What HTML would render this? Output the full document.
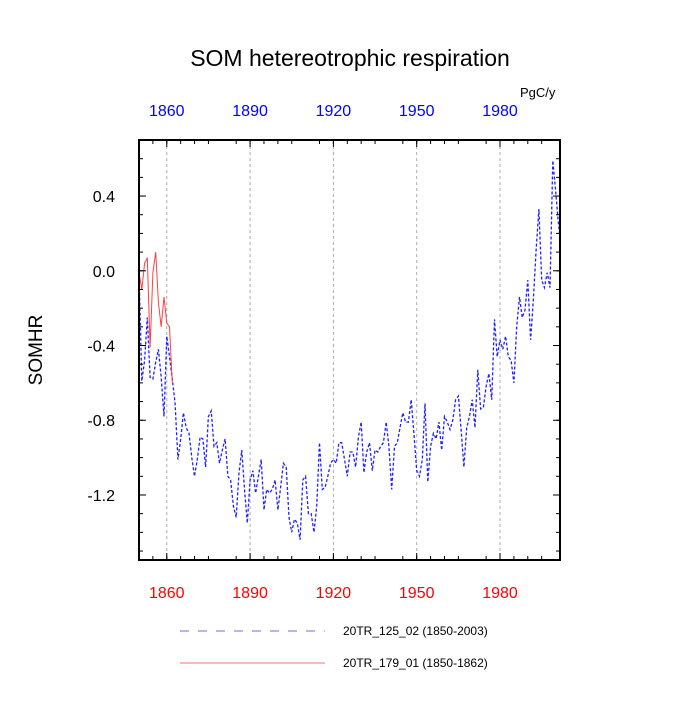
<!DOCTYPE html>
<html><head><meta charset="utf-8"><style>
body{margin:0;background:#fff}
svg text{font-family:"Liberation Sans",sans-serif}
</style></head><body>
<svg id="c" width="700" height="700" xmlns="http://www.w3.org/2000/svg">
<text x="350" y="66" font-size="23" text-anchor="middle">SOM hetereotrophic respiration</text>
<text x="520" y="97" font-size="13">PgC/y</text>
<text transform="translate(42,350) rotate(-90)" font-size="19" text-anchor="middle">SOMHR</text>
<g id="grid"></g><g id="series"></g><g id="axes"></g>
<g>
<line x1="180" y1="631" x2="325" y2="631" stroke="#6a6aff" stroke-width="1" stroke-dasharray="9,9"/>
<text x="343" y="635" font-size="12">20TR_125_02 (1850-2003)</text>
<line x1="180" y1="663" x2="325" y2="663" stroke="#ff7070" stroke-width="1"/>
<text x="343" y="667" font-size="12">20TR_179_01 (1850-1862)</text>
</g>
</svg>
<script>
const blueStart = 1850;
const blueValues = [-0.01,-0.59,-0.48,-0.25,-0.57,-0.58,-0.49,-0.42,-0.57,-0.78,
-0.35,-0.46,-0.58,-0.71,-1.01,-0.90,-0.76,-0.84,-0.87,-1.00,
-1.10,-1.01,-0.89,-0.90,-1.05,-0.78,-0.75,-0.94,-0.92,-1.03,
-0.96,-0.90,-1.10,-1.12,-1.26,-1.32,-1.08,-0.96,-1.17,-1.35,
-1.12,-1.07,-1.19,-1.10,-1.01,-1.28,-1.17,-1.19,-1.17,-1.12,
-1.28,-1.16,-1.03,
-1.05,-1.32,-1.40,-1.33,-1.35,-1.44,-1.12,-1.10,-1.30,-1.30,
-1.40,-1.26,-0.92,-1.17,-1.16,-1.10,-1.03,-1.01,-1.03,-0.92,
-0.92,-1.01,-1.10,-0.97,-0.97,-1.05,-0.89,-0.81,-1.08,-0.97,
-0.92,-1.07,-0.96,-0.97,-0.94,-0.92,-0.81,-0.94,-1.17,-0.94,
-0.92,-0.84,-0.76,-0.81,-0.81,-0.69,-0.87,-1.07,-1.10,-1.01,
-0.71,
-1.13,-0.94,-0.87,-0.90,-0.81,-0.96,-0.78,-0.81,-0.85,-0.80,
-0.69,-0.67,-0.85,-1.05,-0.84,-0.78,-0.69,-0.84,-0.53,-0.74,
-0.73,-0.62,-0.55,-0.69,-0.26,-0.46,-0.37,-0.42,-0.35,-0.46,
-0.48,-0.60,-0.30,-0.14,-0.25,-0.21,-0.05,-0.37,-0.16,0.11,
0.33,-0.05,-0.09,-0.01,-0.09,0.59,0.43,0.26,0.13];
const redStart = 1850;
const redValues = [-0.01,-0.10,0.04,0.07,-0.41,-0.01,0.10,-0.17,-0.30,-0.14,-0.28,-0.30,-0.60];
const xTicks = [1860,1890,1920,1950,1980];
const yTicks = [0.4,0.0,-0.4,-0.8,-1.2];
const yTickLabels = ["0.4","0.0","-0.4","-0.8","-1.2"];

const L=139,R=560,T=140,B=560;
const X0=1850,X1=2001.6,Y0=-1.548,Y1=0.70;
const sx=v=>L+(v-X0)/(X1-X0)*(R-L);
const sy=v=>B-(v-Y0)/(Y1-Y0)*(B-T);
const NS="http://www.w3.org/2000/svg";
function mk(tag,attrs,parent){const e=document.createElementNS(NS,tag);for(const k in attrs)e.setAttribute(k,attrs[k]);parent.appendChild(e);return e;}
const grid=document.getElementById('grid'),series=document.getElementById('series'),axes=document.getElementById('axes');
const svg=document.getElementById('c');
let defs=mk('defs',{},svg);let cp=mk('clipPath',{id:'clip'},defs);mk('rect',{x:L,y:T,width:R-L,height:B-T},cp);

xTicks.forEach(t=>{
 let g=mk('line',{x1:sx(t),x2:sx(t),y1:T,y2:B,stroke:'#aaa','stroke-width':1,'stroke-dasharray':'3,3'},grid);
 
 
 let b=mk('text',{x:sx(t),y:598,'font-size':16,'text-anchor':'middle',fill:'#f00'},axes);b.textContent=t;
 
 
 let tp=mk('text',{x:sx(t),y:116,'font-size':16,'text-anchor':'middle',fill:'#00f'},axes);tp.textContent=t;
 
 
 [[B,B-7],[T,T+7]].forEach(p=>mk('line',{x1:sx(t),x2:sx(t),y1:p[0],y2:p[1],stroke:'#000'},axes));
});
for(let yr=1855;yr<=2000;yr+=5){ if(yr%30===20)continue;
 [[B,B-4],[T,T+4]].forEach(p=>mk('line',{x1:sx(yr),x2:sx(yr),y1:p[0],y2:p[1],stroke:'#000'},axes));}
yTicks.forEach((t,i)=>{
 let tx=mk('text',{x:115,y:sy(t)+6,'font-size':16,'text-anchor':'end'},axes);tx.textContent=yTickLabels[i];
 
 
 mk('line',{x1:L,x2:L+7,y1:sy(t),y2:sy(t),stroke:'#000'},axes);
 mk('line',{x1:R,x2:R-7,y1:sy(t),y2:sy(t),stroke:'#000'},axes);
});
for(let v=-1.5;v<=0.65;v+=0.1){
 mk('line',{x1:L,x2:L+4,y1:sy(v),y2:sy(v),stroke:'#000'},axes);
 mk('line',{x1:R,x2:R-4,y1:sy(v),y2:sy(v),stroke:'#000'},axes);}
let fr=mk('rect',{x:L,y:T,width:R-L,height:B-T,fill:'none',stroke:'#000','stroke-width':2},axes);



let bp=blueValues.map((v,i)=>sx(blueStart+i).toFixed(1)+','+sy(v).toFixed(1)).join(' ');
let bl=mk('polyline',{points:bp,fill:'none',stroke:'#2020ff','stroke-width':1.3,'stroke-dasharray':'3,2','clip-path':'url(#clip)'},series);


let rp=redValues.map((v,i)=>sx(redStart+i).toFixed(1)+','+sy(v).toFixed(1)).join(' ');
let rl=mk('polyline',{points:rp,fill:'none',stroke:'#ff4040','stroke-width':1,'clip-path':'url(#clip)'},series);


</script>
</body></html>
